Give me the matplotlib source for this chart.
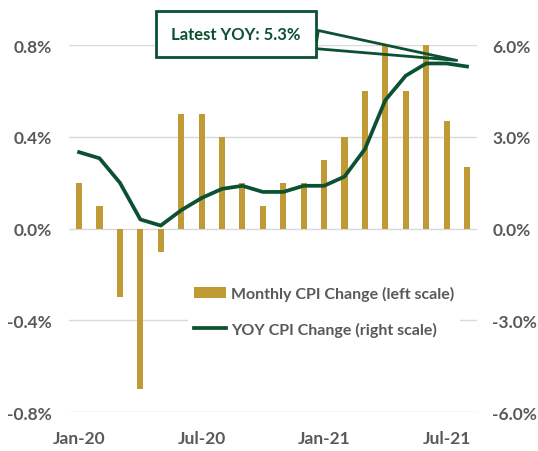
import matplotlib.pyplot as plt
import numpy as np
import pandas as pd
from matplotlib.ticker import FuncFormatter

# Monthly data, Jan-2020 .. Aug-2021
months = pd.date_range('2020-01-01', '2021-08-01', freq='MS')
monthly_cpi = [0.2, 0.1, -0.3, -0.7, -0.1, 0.5, 0.5, 0.4, 0.2, 0.1,
               0.2, 0.2, 0.3, 0.4, 0.6, 0.8, 0.6, 0.8, 0.47, 0.27]
yoy_cpi = [2.5, 2.3, 1.5, 0.3, 0.1, 0.6, 1.0, 1.3, 1.4, 1.2,
           1.2, 1.4, 1.4, 1.7, 2.6, 4.2, 5.0, 5.4, 5.4, 5.3]
latest_label = 'Latest YOY: 5.3%'

GOLD = '#C09A34'
GREEN = '#0B5132'
GRAY = '#595959'

plt.rcParams['font.family'] = ['Lato', 'DejaVu Sans']

fig, ax = plt.subplots(figsize=(5.38, 4.52), dpi=100, facecolor='white')
fig.subplots_adjust(left=0.128, right=0.887, top=0.898, bottom=0.086)
ax2 = ax.twinx()

x = np.arange(len(months))
bars = ax.bar(x, monthly_cpi, width=0.3, color=GOLD, label='Monthly CPI Change (left scale)')
line, = ax2.plot(x, yoy_cpi, color=GREEN, lw=2.7, solid_joinstyle='round',
                 label='YOY CPI Change (right scale)')

ax.set_xlim(-0.5, len(months) - 0.5)
ax.set_ylim(-0.8, 0.8)
ax2.set_ylim(-6, 6)
ax.set_yticks([-0.8, -0.4, 0.0, 0.4, 0.8])
ax2.set_yticks([-6, -3, 0, 3, 6])
ax.yaxis.set_major_formatter(FuncFormatter(lambda v, p: f'{v:.1f}%'))
ax2.yaxis.set_major_formatter(FuncFormatter(lambda v, p: f'{v:.1f}%'))

tick_idx = [0, 6, 12, 18]
ax.set_xticks(tick_idx)
ax.set_xticklabels([months[i].strftime('%b-%y') for i in tick_idx])

# gridlines only from the left axis (they coincide with right ticks)
ax.yaxis.grid(True, color='#D9D9D9', lw=1)
ax.set_axisbelow(True)

for a in (ax, ax2):
    for s in a.spines.values():
        s.set_visible(False)
    a.tick_params(length=0, labelsize=12.5, labelcolor=GRAY)
    for lbl in a.get_xticklabels() + a.get_yticklabels():
        lbl.set_fontweight('bold')
ax.tick_params(axis='y', pad=12)
ax2.tick_params(axis='y', pad=11)
ax.tick_params(axis='x', pad=13)

leg = ax2.legend([bars, line], [bars.get_label(), line.get_label()],
                 loc='center', bbox_to_anchor=(0.625, 0.275), frameon=True,
                 facecolor='white', edgecolor='none', framealpha=1, fontsize=11.5,
                 labelspacing=1.3, handlelength=2.0, handletextpad=0.3)
for t in leg.get_texts():
    t.set_color(GRAY)
    t.set_fontweight('bold')

# callout box pointing at the latest YOY reading
ax2.annotate(latest_label, xy=(18.5, 5.5), xycoords='data',
             xytext=(0.439, 0.9226), textcoords='figure fraction',
             ha='center', va='center', fontsize=12, fontweight='bold', color=GREEN,
             bbox=dict(boxstyle='square,pad=0.9', fc='white', ec=GREEN, lw=2),
             arrowprops=dict(arrowstyle='wedge,tail_width=1.1,shrink_factor=0.5',
                             fc='none', ec=GREEN, lw=2, relpos=(1.0, 0.3),
                             shrinkA=0, shrinkB=0),
             zorder=10)

plt.savefig('out.png', dpi=100)
plt.close()
